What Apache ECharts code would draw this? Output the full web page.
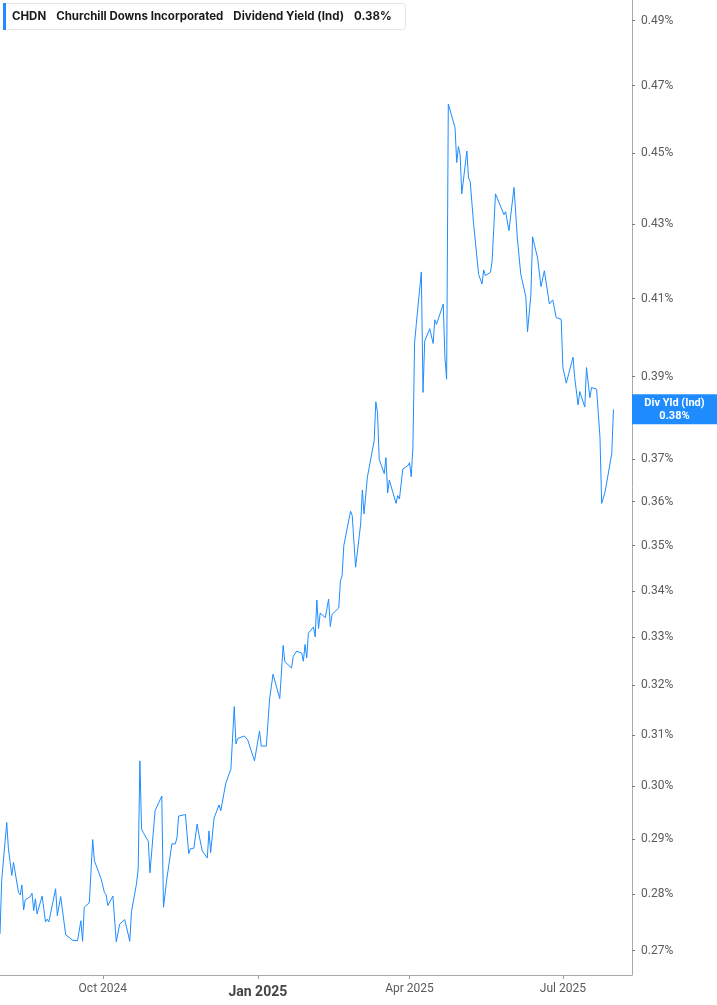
<!DOCTYPE html>
<html><head><meta charset="utf-8">
<script src="https://cdn.jsdelivr.net/npm/echarts@6/dist/echarts.min.js"></script>
<style>html,body{margin:0;padding:0;background:#fff}#c{width:717px;height:1005px}</style>
</head><body><div id="c"></div>
<script>
const dates = [
'2024-08-01','2024-08-02','2024-08-05','2024-08-06','2024-08-08','2024-08-09','2024-08-12','2024-08-13','2024-08-14','2024-08-15',
'2024-08-16','2024-08-19','2024-08-20','2024-08-21','2024-08-22','2024-08-23','2024-08-26','2024-08-28','2024-08-29','2024-08-30',
'2024-09-03','2024-09-04','2024-09-05','2024-09-06','2024-09-09','2024-09-10','2024-09-11','2024-09-13','2024-09-16','2024-09-18',
'2024-09-19','2024-09-20','2024-09-23','2024-09-25','2024-09-26','2024-09-30','2024-10-02','2024-10-03','2024-10-04','2024-10-07',
'2024-10-09','2024-10-11','2024-10-14','2024-10-15','2024-10-16','2024-10-17','2024-10-18','2024-10-21','2024-10-22','2024-10-23',
'2024-10-24','2024-10-25','2024-10-28','2024-10-29','2024-10-30','2024-11-01','2024-11-05','2024-11-06','2024-11-08','2024-11-11',
'2024-11-13','2024-11-14','2024-11-15','2024-11-19','2024-11-21','2024-11-22','2024-11-24','2024-11-26','2024-11-27','2024-11-29',
'2024-12-02','2024-12-03','2024-12-04','2024-12-06','2024-12-09','2024-12-10','2024-12-13','2024-12-16','2024-12-18','2024-12-19',
'2024-12-20','2024-12-24','2024-12-26','2024-12-30','2025-01-02','2025-01-03','2025-01-06','2025-01-08','2025-01-10','2025-01-14',
'2025-01-16','2025-01-17','2025-01-21','2025-01-22','2025-01-23','2025-01-24','2025-01-27','2025-01-28','2025-01-29','2025-01-30',
'2025-01-31','2025-02-03','2025-02-04','2025-02-05','2025-02-06','2025-02-07','2025-02-10','2025-02-12','2025-02-13','2025-02-14',
'2025-02-18','2025-02-19','2025-02-20','2025-02-21','2025-02-25','2025-02-26','2025-02-28','2025-03-03','2025-03-04','2025-03-05',
'2025-03-07','2025-03-11','2025-03-12','2025-03-13','2025-03-14','2025-03-17','2025-03-18','2025-03-19','2025-03-20','2025-03-21',
'2025-03-24','2025-03-25','2025-03-26','2025-03-28','2025-03-31','2025-04-01','2025-04-02','2025-04-03','2025-04-04','2025-04-05',
'2025-04-08','2025-04-09','2025-04-10','2025-04-11','2025-04-13','2025-04-15','2025-04-16','2025-04-17','2025-04-21','2025-04-22',
'2025-04-23','2025-04-24','2025-04-28','2025-04-29','2025-04-30','2025-05-01','2025-05-02','2025-05-05','2025-05-06','2025-05-07',
'2025-05-09','2025-05-12','2025-05-14','2025-05-15','2025-05-16','2025-05-19','2025-05-20','2025-05-22','2025-05-23','2025-05-27',
'2025-05-28','2025-05-30','2025-06-02','2025-06-04','2025-06-05','2025-06-06','2025-06-09','2025-06-10','2025-06-12','2025-06-13',
'2025-06-16','2025-06-18','2025-06-20','2025-06-23','2025-06-25','2025-06-27','2025-06-30','2025-07-01','2025-07-03','2025-07-07',
'2025-07-08','2025-07-10','2025-07-11','2025-07-14','2025-07-15','2025-07-17','2025-07-18','2025-07-21','2025-07-23','2025-07-24',
'2025-07-26','2025-07-30','2025-07-31'
];
const yields = [
0.2729,0.2824,0.2931,0.2882,0.2833,0.2857,0.2802,0.2798,0.2816,0.2771,
0.2789,0.2795,0.2801,0.2770,0.2791,0.2764,0.2796,0.2750,0.2755,0.2750,
0.2809,0.2761,0.2758,0.2795,0.2727,0.2729,0.2723,0.2718,0.2717,0.2752,
0.2716,0.2776,0.2784,0.2899,0.2860,0.2827,0.2802,0.2798,0.2779,0.2796,
0.2715,0.2746,0.2754,0.2751,0.2729,0.2716,0.2768,0.2818,0.2845,0.3049,
0.2919,0.2912,0.2896,0.2838,0.2839,0.2953,0.2981,0.2776,0.2827,0.2891,
0.2891,0.2902,0.2943,0.2946,0.2873,0.2882,0.2883,0.2928,0.2909,0.2878,
0.2865,0.2915,0.2875,0.2939,0.2964,0.2953,0.3006,0.3033,0.3157,0.3082,
0.3093,0.3098,0.3090,0.3049,0.3108,0.3078,0.3078,0.3173,0.3223,0.3173,
0.3283,0.3249,0.3236,0.3260,0.3262,0.3271,0.3267,0.3250,0.3285,0.3257,
0.3309,0.3322,0.3301,0.3380,0.3319,0.3352,0.3342,0.3382,0.3323,0.3349,
0.3363,0.3422,0.3433,0.3500,0.3578,0.3568,0.3452,0.3549,0.3627,0.3572,
0.3657,0.3743,0.3838,0.3811,0.3699,0.3665,0.3703,0.3620,0.3650,0.3647,
0.3596,0.3614,0.3606,0.3676,0.3684,0.3691,0.3658,0.3727,0.3986,0.4033,
0.4171,0.3861,0.3990,0.3988,0.4022,0.3984,0.4045,0.4033,0.4086,0.3948,
0.3894,0.4645,0.4575,0.4474,0.4520,0.4496,0.4385,0.4507,0.4430,0.4419,
0.4302,0.4164,0.4139,0.4176,0.4161,0.4170,0.4200,0.4385,0.4383,0.4327,
0.4335,0.4283,0.4403,0.4260,0.4258,0.4165,0.4105,0.4014,0.4110,0.4266,
0.4208,0.4132,0.4174,0.4086,0.4097,0.4051,0.4046,0.3923,0.3884,0.3949,
0.3898,0.3830,0.3863,0.3825,0.3923,0.3848,0.3873,0.3869,0.3751,0.3596,
0.3622,0.3713,0.3819
];
const yTicks = [0.27,0.28,0.29,0.30,0.31,0.32,0.33,0.34,0.35,0.36,0.37,0.39,0.41,0.43,0.45,0.47,0.49];
const xTickDates = ['2024-10-01','2025-01-01','2025-04-01','2025-07-01'];
const xTickLabels = ['Oct 2024','Jan 2025','Apr 2025','Jul 2025'];
const xRange = ['2024-08-01','2025-08-11'];
const ticker = 'CHDN';
const company = 'Churchill Downs Incorporated';
const metric = 'Dividend Yield (Ind)';
const tagName = 'Div Yld (Ind)';

const lastValue = yields[yields.length - 1];
const BLUE = '#1e8cff';
const FONT = 'Roboto, "Noto Sans", sans-serif';
const ts = s => Date.parse(s);
const xTickTs = xTickDates.map(ts);

const chart = echarts.init(document.getElementById('c'), null, {renderer: 'canvas'});

function xLabel(v) {
  const i = xTickTs.findIndex(t => Math.abs(t - v) < 43200000);
  if (i < 0) return '';
  return (xTickLabels[i].indexOf('Jan') === 0 ? '{b|' : '{n|') + xTickLabels[i] + '}';
}

chart.setOption({
  animation: false,
  backgroundColor: '#fff',
  title: {
    left: 3, top: 3,
    padding: [0, 14, 0, 0],
    backgroundColor: '#fff',
    borderColor: '#e4e4e4', borderWidth: 1, borderRadius: 3,
    text: '{bar|}{g1|}{s|' + ticker + '}{g|}{s|' + company + '}{g|}{n|' + metric + '}{g|}{s|' + lastValue.toFixed(2) + '%}',
    textStyle: {
      rich: {
        bar: {width: 3, height: 27, backgroundColor: BLUE},
        g1: {width: 6},
        g: {width: 10},
        s: {fontFamily: 'Inter, sans-serif', fontSize: 11.5, fontWeight: 'bold', color: '#1a1a1a'},
        n: {fontFamily: 'Inter, sans-serif', fontSize: 11.5, color: '#1a1a1a'}
      }
    }
  },
  grid: {left: 0, right: 85, top: 0, bottom: 30, containLabel: false},
  xAxis: {
    type: 'value',
    min: ts(xRange[0]), max: ts(xRange[1]),
    axisLine: {show: true, lineStyle: {color: '#a8a8a8', width: 1}},
    axisTick: {show: true, customValues: xTickTs, length: 4, lineStyle: {color: '#999'}},
    axisLabel: {
      customValues: xTickTs,
      formatter: xLabel,
      margin: 8,
      rich: {
        n: {fontFamily: FONT, fontSize: 12, color: '#5a5a5a'},
        b: {fontFamily: FONT, fontSize: 14, fontWeight: 'bold', color: '#444', padding: [2, 0, 0, 0]}
      }
    },
    splitLine: {show: false}
  },
  yAxis: {
    type: 'log',
    logBase: 10,
    position: 'right',
    min: 0.2658, max: 0.4965,
    axisLine: {show: true, lineStyle: {color: '#a8a8a8', width: 1}},
    axisTick: {show: true, customValues: yTicks, length: 3, lineStyle: {color: '#777'}},
    axisLabel: {
      customValues: yTicks,
      formatter: v => Number(v).toFixed(2) + '%',
      fontFamily: FONT, fontSize: 12, color: '#5a5a5a', margin: 9
    },
    splitLine: {show: false}
  },
  series: [{
    type: 'line',
    data: dates.map((d, i) => [ts(d), yields[i]]),
    showSymbol: false,
    symbol: 'none',
    lineStyle: {width: 1, color: BLUE},
    itemStyle: {color: BLUE},
    markLine: {
      silent: true,
      symbol: ['none', 'none'],
      animation: false,
      lineStyle: {color: 'rgba(0,0,0,0)', width: 0, type: 'solid'},
      data: [{yAxis: lastValue}],
      label: {
        show: true,
        position: 'end',
        distance: 0,
        offset: [0, -8],
        formatter: '{a|' + tagName + '}\n{a|' + lastValue.toFixed(2) + '%}',
        backgroundColor: BLUE,
        padding: [2, 0, 2, 0],
        rich: {a: {color: '#fff', fontFamily: FONT, fontWeight: 'bold', fontSize: 11, width: 85, align: 'center', lineHeight: 13}}
      }
    }
  }]
});
</script></body></html>
